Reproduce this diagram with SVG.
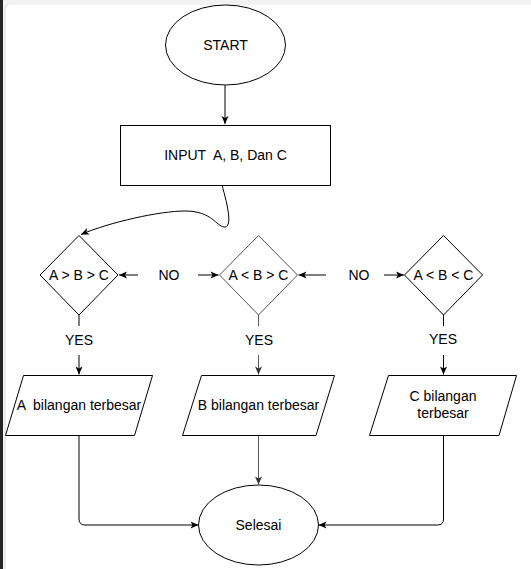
<svg xmlns="http://www.w3.org/2000/svg" width="531" height="569" viewBox="0 0 531 569">
<style>
.s{fill:#fff;stroke:#000;stroke-width:1}
.t{font-family:"Liberation Sans",Arial,sans-serif;font-size:14px;fill:#000;text-anchor:middle;white-space:pre}
.c{fill:none;stroke:#000;stroke-width:1}
.g{stroke:#5a5a5a}
</style>
<defs>
<marker id="a" markerUnits="userSpaceOnUse" markerWidth="10" markerHeight="10" viewBox="0 0 10 10" refX="9" refY="5" orient="auto">
<path d="M1,1.5 L9,5 L1,8.5 L3,5 Z" fill="#000"/>
</marker>
<marker id="ag" markerUnits="userSpaceOnUse" markerWidth="10" markerHeight="10" viewBox="0 0 10 10" refX="9" refY="5" orient="auto">
<path d="M1,1.5 L9,5 L1,8.5 L3,5 Z" fill="#333"/>
</marker>
</defs>
<rect x="0" y="0" width="531" height="569" fill="#f2f2f2"/>
<rect x="5" y="5" width="540" height="580" rx="6" fill="#fff"/>
<line x1="5.5" y1="5" x2="5.5" y2="569" stroke="#e4e4e4"/>
<rect x="0" y="0" width="3" height="569" fill="#262626"/>

<g id="connectors">
<path class="c" d="M225,85 L225,124" marker-end="url(#a)"/>
<path class="c" d="M222,185 C226,200 234,228 224,227 C216,226 212,211 185,211 C160,211 110,222 81,234.5" marker-end="url(#a)"/>
<path class="c" d="M138,275 L119,275" marker-end="url(#a)"/>
<path class="c" d="M198,275 L218.5,275" marker-end="url(#a)"/>
<path class="c" d="M326,275 L298.5,275" marker-end="url(#a)"/>
<path class="c" d="M384,275 L404,275" marker-end="url(#a)"/>
<path class="c" d="M79,315 L79,326"/>
<path class="c" d="M79,355 L79,374.5" marker-end="url(#a)"/>
<path class="c g" d="M258.5,315 L258.5,326"/>
<path class="c g" d="M258.5,355 L258.5,374.5" marker-end="url(#ag)"/>
<path class="c" d="M443.5,315 L443.5,326"/>
<path class="c" d="M443.5,355 L443.5,374.5" marker-end="url(#a)"/>
<path class="c" d="M79,435 L79,519 Q79,525 85,525 L198.5,525" marker-end="url(#a)"/>
<path class="c g" d="M258.5,435 L258.5,484.5" marker-end="url(#ag)"/>
<path class="c" d="M443.5,435 L443.5,519 Q443.5,525 437.5,525 L318.5,525" marker-end="url(#a)"/>
<text class="t" x="169" y="280">NO</text>
<text class="t" x="359" y="280">NO</text>
<text class="t" x="79" y="345">YES</text>
<text class="t" x="259" y="345">YES</text>
<text class="t" x="443" y="344">YES</text>
</g>

<g id="start">
<ellipse class="s" cx="225.5" cy="45" rx="60" ry="40"/>
<text class="t" x="225.5" y="50">START</text>
</g>
<g id="input">
<rect class="s" x="120.5" y="125.5" width="210" height="60"/>
<text class="t" x="225.5" y="160" xml:space="preserve">INPUT  A, B, Dan C</text>
</g>
<g id="d1">
<path class="s" d="M79,235.5 L118,275 L79,315 L40,275 Z"/>
<text class="t" x="79" y="280">A &gt; B &gt; C</text>
</g>
<g id="d2">
<path class="s" style="stroke:#555" d="M258.5,235.5 L297.5,275 L258.5,315 L219.5,275 Z"/>
<text class="t" x="258.5" y="280">A &lt; B &gt; C</text>
</g>
<g id="d3">
<path class="s" d="M443.5,235.5 L482.5,275 L443.5,315 L404.5,275 Z"/>
<text class="t" x="443.5" y="280">A &lt; B &lt; C</text>
</g>
<g id="p1">
<path class="s" d="M23.5,375.5 L152.5,375.5 L134.5,435.5 L5.5,435.5 Z"/>
<text class="t" x="79" y="410" xml:space="preserve">A  bilangan terbesar</text>
</g>
<g id="p2">
<path class="s" d="M201.5,375.5 L334.5,375.5 L316,435.5 L182.5,435.5 Z"/>
<text class="t" x="258.5" y="410">B bilangan terbesar</text>
</g>
<g id="p3">
<path class="s" d="M388.5,375.5 L516.5,375.5 L499,435.5 L369.5,435.5 Z"/>
<text class="t" x="443" y="401">C bilangan</text>
<text class="t" x="443" y="418">terbesar</text>
</g>
<g id="selesai">
<ellipse class="s" cx="258.5" cy="525" rx="60" ry="40"/>
<text class="t" x="258.5" y="530">Selesai</text>
</g>
</svg>
